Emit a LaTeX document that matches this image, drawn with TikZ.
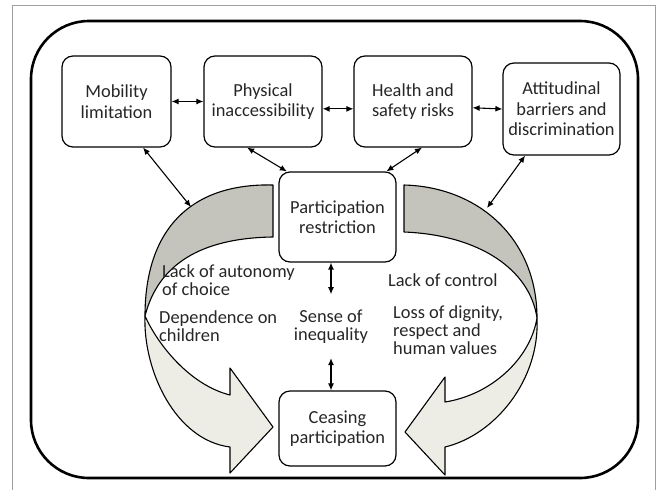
\documentclass[tikz,border=0pt]{standalone}
\usepackage{fontspec}
\setmainfont{Carlito}
\usetikzlibrary{arrows.meta}
\definecolor{backband}{HTML}{C4C4BC}
\definecolor{frontband}{HTML}{EEEDE5}
\definecolor{framegray}{HTML}{A0A0A0}
\definecolor{ink}{HTML}{262626}
\tikzset{
	box/.style={draw, rounded corners=11pt, line width=1.2pt, align=center, text=ink, font=\fontsize{18.4}{20.5}\selectfont, inner sep=2pt},
	lbl/.style={align=left, inner sep=0pt, text=ink, font=\fontsize{18.4}{18}\selectfont},
	link/.style={{Latex[length=7pt,width=6pt]}-{Latex[length=7pt,width=6pt]}, line width=1.1pt},
	band/.style={draw, line width=1.1pt, line join=round}
}
\begin{document}
\begin{tikzpicture}[x=1pt,y=-1pt]
	\useasboundingbox (0,0) rectangle (660,490);
	\draw[framegray, line width=0.8pt] (12,490) -- (12,5) -- (655,5) -- (655,490);
	\draw[line width=2.6pt, rounded corners=58pt] (31,21) rectangle (638,478);
	% curved arrows, front part first
	\filldraw[band, fill=frontband] (145,316) .. controls (143,370) and (175,440) .. (230,447) -- (230,473) -- (273,427) -- (230,368) -- (230,395) .. controls (190,385) and (158,345) .. (145,316) -- cycle;
	\filldraw[band, fill=backband] (273,185) .. controls (190,183) and (145,230) .. (145,316) .. controls (158,265) and (200,238) .. (273,237) -- cycle;
	\filldraw[band, fill=frontband] (537,318) .. controls (540,380) and (495,435) .. (445,447) -- (445,475) -- (405,432) -- (445,377) -- (445,402) .. controls (490,395) and (530,360) .. (537,318) -- cycle;
	\filldraw[band, fill=backband] (404,185) .. controls (480,187) and (537,240) .. (537,318) .. controls (530,270) and (480,235) .. (404,232) -- cycle;
	\coordinate (lefttip) at (191,207);
	\coordinate (righttip) at (487,208);
	% boxes
	\node[box, minimum width=109pt, minimum height=91pt] (mob) at (116.5,101.5) {Mobility\\limitation};
	\node[box, minimum width=118pt, minimum height=91pt] (phys) at (263,101.5) {Physical\\inaccessibility};
	\node[box, minimum width=118pt, minimum height=91pt] (hlth) at (413,101.5) {Health and\\safety risks};
	\node[box, minimum width=117pt, minimum height=92pt] (att) at (561.5,109) {Attitudinal\\barriers and\\discrimination};
	\node[box, minimum width=117pt, minimum height=90pt] (part) at (337.5,217) {Participation\\restriction};
	\node[box, minimum width=117pt, minimum height=75pt] (cease) at (337.5,428.5) {Ceasing\\participation};
	% labels (base = last line)
	\node[lbl, anchor=base west] (auto) at (162,295) {Lack of autonomy\\of choice};
	\node[lbl, anchor=base west] (dep) at (159,341) {Dependence on\\children};
	\node[lbl, anchor=base west] (ctrl) at (388,286) {Lack of control};
	\node[lbl, anchor=base west] (loss) at (393,354) {Loss of dignity,\\respect and\\human values};
	\node[lbl, align=center, anchor=base, inner ysep=15pt] (ineq) at (331,340) {Sense of\\inequality};
	% links
	\draw[link] (mob.east) -- (phys.west);
	\draw[link] (phys.-7) -- (hlth.187);
	\draw[link] (hlth.-6) -- (att.west);
	\draw[link] (mob.-60) -- (lefttip);
	\draw[link] (phys.-109) -- (part.138);
	\draw[link] (hlth.-79) -- (part.43);
	\draw[link] (att.-128) -- (righttip);
	\draw[link] (ineq.north |- part.south) -- (ineq.north);
	\draw[link] (ineq.south) -- (ineq.south |- cease.north);
\end{tikzpicture}
\end{document}
